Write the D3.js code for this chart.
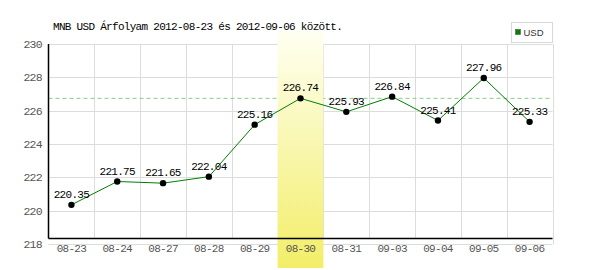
<!DOCTYPE html>
<html>
<head>
<meta charset="utf-8">
<script src="https://cdn.jsdelivr.net/npm/d3@7"></script>
<style>
  body { margin: 0; background: #fff; }
  svg text { font-family: "Liberation Mono", "DejaVu Sans Mono", monospace; letter-spacing: -0.7px; }
</style>
</head>
<body>
<svg id="chart" width="600" height="270"></svg>
<script>
// chart data
const dates = ["08-23", "08-24", "08-27", "08-28", "08-29", "08-30", "08-31", "09-03", "09-04", "09-05", "09-06"];
const rates = [220.35, 221.75, 221.65, 222.04, 225.16, 226.74, 225.93, 226.84, 225.41, 227.96, 225.33];
const yTicks = [218, 220, 222, 224, 226, 228, 230];
const highlightDate = "08-30";
const refValue = 226.74;
const title = "MNB USD Árfolyam 2012-08-23 és 2012-09-06 között.";
const seriesName = "USD";

const svg = d3.select("#chart");
const plotL = 48.5, plotR = 552.5, plotT = 44, plotB = 244, axisY = 238.5;

const x = d3.scaleBand().domain(dates).range([plotL, plotR]);
const y = d3.scaleLinear().domain([218, 230]).range([plotB, plotT]);
const cx = (d, i) => x(dates[i]) + x.bandwidth() / 2;

// grid
const grid = svg.append("g").attr("stroke", "#dcdcdc").attr("stroke-width", 1);
grid.selectAll("line.h").data(yTicks).join("line")
    .attr("x1", plotL).attr("x2", plotR)
    .attr("y1", d => Math.round(y(d)) + 0.5).attr("y2", d => Math.round(y(d)) + 0.5);
grid.selectAll("line.v").data(dates).join("line")
    .attr("x1", d => Math.round(x(d) + x.bandwidth()) + 0.5)
    .attr("x2", d => Math.round(x(d) + x.bandwidth()) + 0.5)
    .attr("y1", plotT).attr("y2", (d, i) => i === dates.length - 1 ? plotB : axisY);

// reference dashed line
svg.append("line")
    .attr("x1", plotL).attr("x2", plotR)
    .attr("y1", y(refValue)).attr("y2", y(refValue))
    .attr("stroke", "#88cc88").attr("stroke-dasharray", "4,3");

// highlight band
const grad = svg.append("defs").append("linearGradient")
    .attr("id", "hl").attr("x1", 0).attr("y1", 0).attr("x2", 0).attr("y2", 1);
grad.append("stop").attr("offset", "0%").attr("stop-color", "#fffff2");
grad.append("stop").attr("offset", "100%").attr("stop-color", "#f2ee68");
svg.append("rect")
    .attr("x", x(highlightDate)).attr("width", x.bandwidth())
    .attr("y", 31).attr("height", 237)
    .attr("fill", "url(#hl)");

// axes lines
svg.append("line").attr("x1", plotL).attr("x2", plotL).attr("y1", plotT).attr("y2", axisY)
    .attr("stroke", "#000").attr("stroke-width", 1.5);
svg.append("line").attr("x1", plotL).attr("x2", plotR).attr("y1", axisY).attr("y2", axisY)
    .attr("stroke", "#000").attr("stroke-width", 1.5);

// y tick labels
svg.append("g").selectAll("text").data(yTicks).join("text")
    .attr("x", 42).attr("y", d => y(d) + 4)
    .attr("text-anchor", "end").attr("fill", "#555").attr("font-size", "11.5px")
    .text(d => d);

// x tick labels
svg.append("g").selectAll("text").data(dates).join("text")
    .attr("x", d => x(d) + x.bandwidth() / 2).attr("y", 252)
    .attr("text-anchor", "middle").attr("fill", "#555").attr("font-size", "11px")
    .text(d => d);

// series line
const line = d3.line().x(cx).y(d => y(d));
svg.append("path").datum(rates)
    .attr("d", line).attr("fill", "none").attr("stroke", "#008000").attr("stroke-width", 1);

svg.append("g").selectAll("circle").data(rates).join("circle")
    .attr("cx", cx).attr("cy", d => y(d))
    .attr("r", 3.2).attr("fill", "#000");

svg.append("g").selectAll("text").data(rates).join("text")
    .attr("x", cx).attr("y", d => y(d) - 7)
    .attr("text-anchor", "middle").attr("fill", "#000").attr("font-size", "11px")
    .text(d => d.toFixed(2));

// title
svg.append("text").attr("x", 53).attr("y", 30).attr("font-size", "11px").attr("fill", "#000")
    .text(title);

// legend
const lg = svg.append("g");
lg.append("rect").attr("x", 511.5).attr("y", 22.5).attr("width", 41).attr("height", 20)
    .attr("fill", "#fff").attr("stroke", "#d8d8d8");
lg.append("rect").attr("x", 515.5).attr("y", 29.5).attr("width", 5).attr("height", 5)
    .attr("fill", "#008000").attr("stroke", "#555").attr("stroke-width", 0.6);
lg.append("text").attr("x", 523.5).attr("y", 36).attr("font-size", "9.5px")
    .attr("fill", "#333").style("font-family", "'Liberation Sans', sans-serif")
    .style("letter-spacing", "0px")
    .text(seriesName);
</script>
</body>
</html>
